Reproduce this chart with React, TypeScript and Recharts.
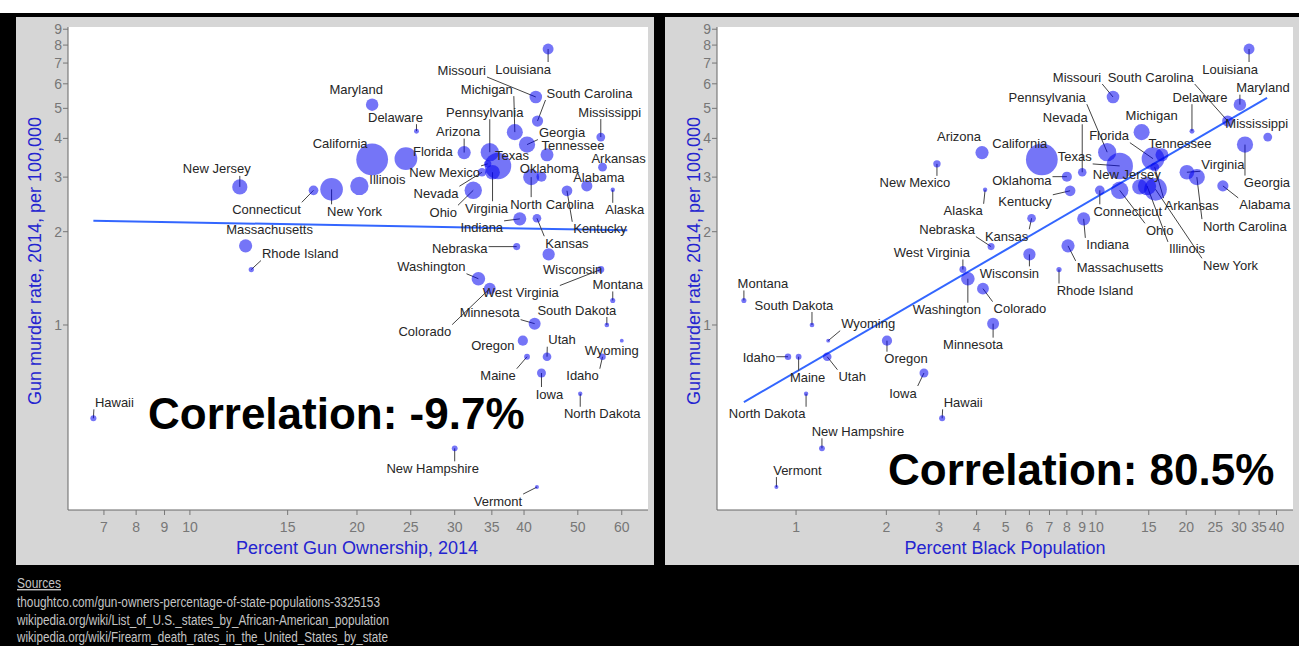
import React from "react";
import { ScatterChart, Scatter, XAxis, YAxis, ReferenceLine } from "recharts";

const FONT = '"Liberation Sans", Arial, Helvetica, sans-serif';

// ---- data ----
const states = [
  "Alabama", "Alaska", "Arizona", "Arkansas", "California", "Colorado", "Connecticut", "Delaware",
  "Florida", "Georgia", "Hawaii", "Idaho", "Illinois", "Indiana", "Iowa", "Kansas", "Kentucky",
  "Louisiana", "Maine", "Maryland", "Massachusetts", "Michigan", "Minnesota", "Mississippi",
  "Missouri", "Montana", "Nebraska", "Nevada", "New Hampshire", "New Jersey", "New Mexico",
  "New York", "North Carolina", "North Dakota", "Ohio", "Oklahoma", "Oregon", "Pennsylvania",
  "Rhode Island", "South Carolina", "South Dakota", "Tennessee", "Texas", "Utah", "Vermont",
  "Virginia", "Washington", "West Virginia", "Wisconsin", "Wyoming",
];

// gun murder rate 2014, per 100,000
const murderRate = [
  2.81, 2.73, 3.6, 3.23, 3.42, 1.31, 2.72, 4.22,
  3.44, 3.82, 0.5, 0.79, 2.81, 2.2, 0.7, 2.21, 2.71,
  7.77, 0.79, 5.14, 1.8, 4.19, 1.01, 4.04,
  5.44, 1.2, 1.79, 3.11, 0.4, 2.79, 3.31,
  2.74, 3.0, 0.6, 2.72, 3.01, 0.89, 3.61,
  1.51, 4.55, 1.0, 3.54, 3.26, 0.79, 0.3,
  3.11, 1.41, 1.51, 1.69, 0.89,
];

// percent gun ownership 2014
const gunOwnership = [
  51.9, 57.8, 31.2, 55.4, 21.3, 34.7, 16.7, 25.6,
  24.5, 40.5, 6.7, 55.4, 20.2, 39.3, 43.0, 42.2, 47.8,
  44.2, 40.5, 21.3, 12.6, 38.5, 41.8, 55.0,
  42.0, 57.8, 38.8, 33.6, 30.0, 12.3, 34.4,
  18.0, 41.2, 50.5, 32.4, 43.0, 39.8, 34.7,
  12.9, 42.3, 56.4, 44.0, 35.9, 44.0, 42.2,
  35.1, 33.1, 55.0, 44.3, 60.0,
];

// percent black population
const blackPopulation = [
  26.5, 4.27, 4.17, 15.7, 6.6, 4.2, 10.3, 20.9,
  15.5, 31.4, 3.07, 0.94, 14.8, 9.1, 2.67, 6.1, 8.2,
  32.4, 1.02, 30.2, 8.07, 14.2, 4.54, 37.4,
  11.4, 0.67, 4.47, 9.0, 1.22, 14.0, 2.95,
  15.8, 21.7, 1.08, 12.0, 8.0, 2.01, 10.9,
  7.53, 27.5, 1.13, 16.6, 12.0, 1.27, 0.86,
  20.1, 3.74, 3.6, 6.0, 1.28,
];

// bubble size: population, millions
const populationM = [
  4.8, 0.74, 6.7, 3.0, 38.8, 5.4, 3.6, 0.94,
  19.9, 10.1, 1.4, 1.6, 12.9, 6.6, 3.1, 2.9, 4.4,
  4.6, 1.3, 6.0, 6.7, 9.9, 5.5, 3.0,
  6.1, 1.0, 1.9, 2.8, 1.3, 8.9, 2.1,
  19.7, 9.9, 0.74, 11.6, 3.9, 4.0, 12.8,
  1.06, 4.8, 0.85, 6.5, 27.0, 2.9, 0.63,
  8.3, 7.1, 1.85, 5.8, 0.58,
];

const rateTicks = [1, 2, 3, 4, 5, 6, 7, 8, 9];
const gunTicks = [7, 8, 9, 10, 15, 20, 25, 30, 35, 40, 50, 60];
const blackTicks = [1, 2, 3, 4, 5, 6, 7, 8, 9, 10, 15, 20, 25, 30, 35, 40];

// fitted lines (log-log), end points
const gunFitX = [6.7, 61.4];
const gunFitY = [2.17, 2.02];
const blackFitX = [0.67, 37.2];
const blackFitY = [0.564, 5.4];

// ---- label layout (pixel offset of label centre from bubble centre) ----
const gunLabelOffset: Record<string, [number, number]> = {
  Alabama: [12, -8], Alaska: [12, 20], Arizona: [-6, -21], Arkansas: [16, -9],
  California: [-32, -16], Colorado: [-65, 43], Connecticut: [-47, 19], Delaware: [-21, -14],
  Florida: [27, -7], Georgia: [35, -12], Hawaii: [21, -16], Idaho: [-20, 19],
  Illinois: [28, -6], Indiana: [-38, 9], Iowa: [8, 21], Kansas: [30, 25],
  Kentucky: [33, 38], Louisiana: [-25, 20], Maine: [-29, 19], Maryland: [-16, -15],
  Massachusetts: [24, -16], Michigan: [-28, -43], Minnesota: [-45, -11], Mississippi: [9, -25],
  Missouri: [-74, -27], Montana: [5, -16], Nebraska: [-57, 2], Nevada: [-46, 21],
  "New Hampshire": [-22, 20], "New Jersey": [-23, -18], "New Mexico": [-43, 9], "New York": [23, 22],
  "North Carolina": [21, 27], "North Dakota": [22, 20], Ohio: [-30, 22], Oklahoma: [8, -8],
  Oregon: [-30, 5], Pennsylvania: [-5, -40], "Rhode Island": [49, -16], "South Carolina": [52, -28],
  "South Dakota": [-30, -15], Tennessee: [26, -9], Texas: [14, -10], Utah: [15, -17],
  Vermont: [-39, 14], Virginia: [-6, 36], Washington: [-47, -12], "West Virginia": [-80, 23],
  Wisconsin: [24, 15], Wyoming: [-10, 10],
};

const blackLabelOffset: Record<string, [number, number]> = {
  Alabama: [42, 19], Alaska: [-22, 21], Arizona: [-23, -16], Arkansas: [37, 38],
  California: [-22, -16], Colorado: [37, 20], Connecticut: [28, 21], Delaware: [8, -34],
  Florida: [-44, -23], Georgia: [22, 38], Hawaii: [21, -16], Idaho: [-29, 1],
  Illinois: [40, 63], Indiana: [24, 26], Iowa: [-21, 20], Kansas: [-25, 18],
  Kentucky: [-45, 11], Louisiana: [-19, 20], Maine: [9, 21], Maryland: [23, -17],
  Massachusetts: [52, 22], Michigan: [10, -17], Minnesota: [-20, 21], Mississippi: [-11, -14],
  Missouri: [-36, -20], Montana: [19, -17], Nebraska: [-44, -17], Nevada: [-17, -55],
  "New Hampshire": [36, -17], "New Jersey": [-13, -12], "New Mexico": [-22, 19], "New York": [75, 76],
  "North Carolina": [48, 49], "North Dakota": [-39, 20], Ohio: [40, 40], Oklahoma: [-45, 4],
  Oregon: [19, 18], Pennsylvania: [-60, -55], "Rhode Island": [36, 21], "South Carolina": [-77, -44],
  "South Dakota": [-18, -20], Tennessee: [18, -11], Texas: [-45, -9], Utah: [25, 20],
  Vermont: [21, -17], Virginia: [36, -8], Washington: [-21, 31], "West Virginia": [-31, -17],
  Wisconsin: [-20, 19], Wyoming: [40, -17],
};

const gunData = states.map((name, i) => ({ name, x: gunOwnership[i], y: murderRate[i], pop: populationM[i] }));
const blackData = states.map((name, i) => ({ name, x: blackPopulation[i], y: murderRate[i], pop: populationM[i] }));

const radius = (pop: number) => 2.55 * Math.sqrt(pop);

const ctx = typeof document !== "undefined" ? document.createElement("canvas").getContext("2d") : null;
function textWidth(s: string) {
  if (ctx) {
    ctx.font = `13px ${FONT}`;
    return ctx.measureText(s).width;
  }
  return s.length * 6.6;
}

function leaderShape(offsets: Record<string, [number, number]>) {
  return (props: any) => {
    const { cx, cy, payload } = props;
    const off = offsets[payload?.name];
    if (!off || cx == null) return <g />;
    const lx = cx + off[0];
    const ly = cy + off[1];
    const hw = textWidth(payload.name) / 2 + 1;
    const hh = 7;
    const qx = Math.max(lx - hw, Math.min(cx, lx + hw));
    const qy = Math.max(ly - hh, Math.min(cy, ly + hh));
    const d = Math.hypot(qx - cx, qy - cy);
    if (d < radius(payload.pop) + 3) return <g />;
    return <line x1={cx} y1={cy} x2={qx} y2={qy} stroke="#444" strokeWidth={1} />;
  };
}

function labelShape(offsets: Record<string, [number, number]>) {
  return (props: any) => {
    const { cx, cy, payload } = props;
    const off = offsets[payload?.name];
    if (!off || cx == null) return <g />;
    return (
      <text x={cx + off[0]} y={cy + off[1]} dy="0.35em" textAnchor="middle" fontSize={13} fill="#262626" fontFamily={FONT}>
        {payload.name}
      </text>
    );
  };
}

const bubbleShape = (props: any) => {
  const { cx, cy, payload } = props;
  if (cx == null) return <g />;
  return <circle cx={cx} cy={cy} r={radius(payload.pop)} fill="#0000f0" fillOpacity={0.54} />;
};

const tickStyle = { fill: "#777", fontSize: 14, fontFamily: FONT };
const TITLE_BLUE = "#2424d0";

function Panel({
  data, offsets, xTicks, xDomain, fitX, fitY, width, yAxisWidth, marginRight,
}: {
  data: typeof gunData; offsets: Record<string, [number, number]>; xTicks: number[];
  xDomain: [number, number]; fitX: number[]; fitY: number[]; width: number; yAxisWidth: number; marginRight: number;
}) {
  return (
    <ScatterChart width={width} height={646} margin={{ top: 27, right: marginRight, bottom: 86, left: 0 }}>
      <XAxis
        type="number" dataKey="x" scale="log" domain={xDomain} allowDataOverflow ticks={xTicks} interval={0}
        height={50} tick={tickStyle} tickLine={{ stroke: "#777" }} axisLine={{ stroke: "#666" }}
        tickSize={5} tickMargin={7}
      />
      <YAxis
        type="number" dataKey="y" scale="log" domain={[0.253, 9.15]} allowDataOverflow ticks={rateTicks} interval={0}
        width={yAxisWidth} tick={tickStyle} tickLine={{ stroke: "#777" }} axisLine={{ stroke: "#666" }}
        tickSize={5} tickMargin={1}
      />
      <Scatter data={data} shape={leaderShape(offsets)} isAnimationActive={false} />
      <Scatter data={data} shape={bubbleShape} isAnimationActive={false} />
      <ReferenceLine
        segment={[{ x: fitX[0], y: fitY[0] }, { x: fitX[1], y: fitY[1] }]}
        stroke="#3366FF" strokeWidth={2}
      />
      <Scatter data={data} shape={labelShape(offsets)} isAnimationActive={false} />
    </ScatterChart>
  );
}

const box = (left: number, top: number, w: number, h: number, bg: string): React.CSSProperties => ({
  position: "absolute", left, top, width: w, height: h, background: bg,
});

export default function App() {
  return (
    <div style={{ position: "fixed", left: 0, top: 0, width: 1299, height: 646, background: "#000", overflow: "hidden", fontFamily: FONT }}>
      <div style={box(0, 0, 1299, 13, "#fff")} />
      <div style={box(16, 17, 638, 548, "#d6d6d6")} />
      <div style={box(665, 17, 634, 548, "#d6d6d6")} />
      <div style={box(68, 27, 580, 483, "#fff")} />
      <div style={box(717, 27, 576, 483, "#fff")} />

      <div style={{ position: "absolute", left: 0, top: 0 }}>
        <Panel data={gunData} offsets={gunLabelOffset} xTicks={gunTicks} xDomain={[6.03, 66.9]}
          fitX={gunFitX} fitY={gunFitY} width={660} yAxisWidth={68} marginRight={12} />
      </div>
      <div style={{ position: "absolute", left: 660, top: 0 }}>
        <Panel data={blackData} offsets={blackLabelOffset} xTicks={blackTicks} xDomain={[0.545, 45.4]}
          fitX={blackFitX} fitY={blackFitY} width={639} yAxisWidth={57} marginRight={6} />
      </div>

      <svg width={1299} height={646} style={{ position: "absolute", left: 0, top: 0, pointerEvents: "none" }} fontFamily={FONT}>
        <text transform="translate(35,261) rotate(-90)" textAnchor="middle" dy="0.35em" fontSize={18} fill={TITLE_BLUE}>
          Gun murder rate, 2014, per 100,000
        </text>
        <text transform="translate(694,261) rotate(-90)" textAnchor="middle" dy="0.35em" fontSize={18} fill={TITLE_BLUE}>
          Gun murder rate, 2014, per 100,000
        </text>
        <text x={357} y={548} dy="0.35em" textAnchor="middle" fontSize={18} fill={TITLE_BLUE}>
          Percent Gun Ownership, 2014
        </text>
        <text x={1005} y={548} dy="0.35em" textAnchor="middle" fontSize={18} fill={TITLE_BLUE}>
          Percent Black Population
        </text>

        <text x={148} y={429} fontSize={44} fontWeight="bold" fill="#000">Correlation: -9.7%</text>
        <text x={888} y={485} fontSize={44} fontWeight="bold" fill="#000">Correlation: 80.5%</text>

        <text x={17} y={588} fontSize={14} fill="#c4c4c4" textDecoration="underline" textLength={44} lengthAdjust="spacingAndGlyphs">Sources</text>
        <text x={17} y={607} fontSize={14} fill="#c4c4c4" textLength={363} lengthAdjust="spacingAndGlyphs">
          thoughtco.com/gun-owners-percentage-of-state-populations-3325153
        </text>
        <text x={17} y={625} fontSize={14} fill="#c4c4c4" textLength={372} lengthAdjust="spacingAndGlyphs">
          wikipedia.org/wiki/List_of_U.S._states_by_African-American_population
        </text>
        <text x={17} y={642} fontSize={14} fill="#c4c4c4" textLength={371} lengthAdjust="spacingAndGlyphs">
          wikipedia.org/wiki/Firearm_death_rates_in_the_United_States_by_state
        </text>
      </svg>
    </div>
  );
}
